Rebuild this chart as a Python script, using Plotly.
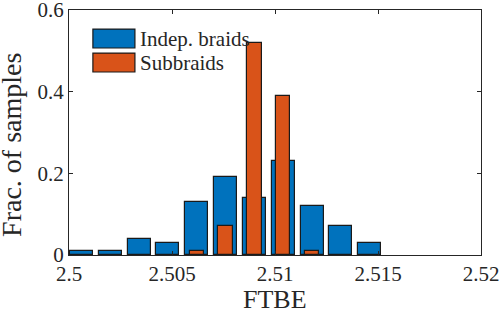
import plotly.graph_objects as go

# Data
bin_centers = [2.5006, 2.5020, 2.5034, 2.5048, 2.5062, 2.5076,
               2.5090, 2.5104, 2.5118, 2.5132, 2.5146]
indep_braids = [0.01, 0.01, 0.04, 0.03, 0.13, 0.19, 0.14, 0.23, 0.12, 0.07, 0.03]
sub_centers = [2.5062, 2.5076, 2.5090, 2.5104, 2.5118]
subbraids = [0.01, 0.07, 0.52, 0.39, 0.01]
x_ticks = [2.5, 2.505, 2.51, 2.515, 2.52]
x_ticktext = ["2.5", "2.505", "2.51", "2.515", "2.52"]
y_ticks = [0, 0.2, 0.4, 0.6]
y_ticktext = ["0", "0.2", "0.4", "0.6"]
series_names = ["Indep. braids", "Subbraids"]

BLUE = "#0072BD"
ORANGE = "#D95319"
FONT = "Liberation Serif"
TXT = "#262626"

fig = go.Figure()
fig.add_trace(go.Bar(x=bin_centers, y=indep_braids, width=0.00112,
                     marker=dict(color=BLUE, line=dict(color="#1a1a1a", width=1.2)),
                     name=series_names[0], showlegend=False))
fig.add_trace(go.Bar(x=sub_centers, y=subbraids, width=0.0007,
                     marker=dict(color=ORANGE, line=dict(color="#1a1a1a", width=1.2)),
                     name=series_names[1], showlegend=False))

axis_common = dict(showgrid=False, zeroline=False, showline=True, linecolor=TXT,
                   linewidth=1, mirror="ticks", ticks="inside", ticklen=4,
                   tickcolor=TXT, automargin=False, ticklabeloverflow="allow",
                   tickfont=dict(family=FONT, size=21, color=TXT))

fig.update_xaxes(range=[2.5, 2.52], tickvals=x_ticks, ticktext=x_ticktext, **axis_common)
fig.update_yaxes(range=[0, 0.6], tickvals=y_ticks, ticktext=y_ticktext, **axis_common)

# Axis titles
fig.add_annotation(xref="paper", yref="paper", x=0.5, y=-0.18, text="FTBE",
                   showarrow=False, xanchor="center", yanchor="middle",
                   font=dict(family=FONT, size=26, color=TXT))
fig.add_annotation(xref="paper", yref="paper", x=-0.138, y=0.45, text="Frac. of samples",
                   showarrow=False, xanchor="center", yanchor="middle", textangle=-90,
                   font=dict(family=FONT, size=28, color=TXT))

# Legend drawn as boxes + text
leg_items = [(series_names[0], BLUE, 0.922, 0.845), (series_names[1], ORANGE, 0.824, 0.747)]
for name, col, y1, y0 in leg_items:
    fig.add_shape(type="rect", xref="paper", yref="paper", x0=0.058, x1=0.160, y0=y0, y1=y1,
                  fillcolor=col, line=dict(color="#1a1a1a", width=1.2))
    fig.add_annotation(xref="paper", yref="paper", x=0.168, y=(y0 + y1) / 2, text=name,
                       showarrow=False, xanchor="left", yanchor="middle",
                       font=dict(family=FONT, size=21, color=TXT))

fig.update_layout(width=502, height=311, barmode="overlay",
                  margin=dict(l=69, r=21, t=10, b=56),
                  font=dict(family=FONT, color=TXT),
                  plot_bgcolor="white", paper_bgcolor="white", bargap=0)

fig.write_html("out.html", config={"displayModeBar": False},
               post_script="document.body.style.margin='0';document.body.style.padding='0';")
